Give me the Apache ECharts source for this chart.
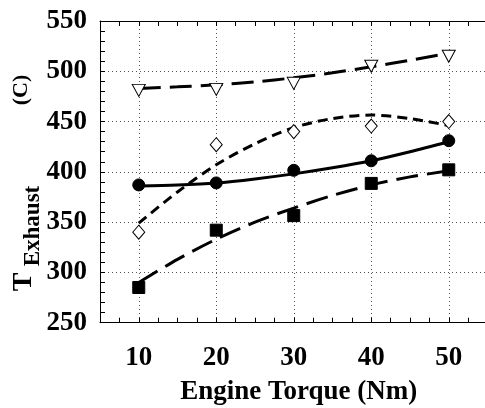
<!DOCTYPE html>
<html>
<head>
<meta charset="utf-8">
<script src="https://cdn.jsdelivr.net/npm/echarts@6/dist/echarts.min.js"></script>
<style>
  html, body { margin: 0; padding: 0; background: #fff; }
  #chart { width: 485px; height: 408px; }
</style>
</head>
<body>
<div id="chart"></div>
<script>
// Measured exhaust temperatures at each torque setting
const torque = [10, 20, 30, 40, 50];
const triangleVals = [481, 482, 488, 505, 515];
const diamondVals = [340, 427, 440, 445.5, 450];
const circleVals = [387, 389, 401.5, 411, 431];
const squareVals = [285, 342, 356.5, 388.5, 402];

// Trend curves, sampled along the torque range
const fitTorque = [10, 15, 20, 25, 30, 35, 40, 45, 50];
const triangleFit = [483, 484.5, 486.5, 489.5, 493.5, 498.5, 504.5, 511, 518];
const diamondFit = [349, 380, 407, 428, 444, 453, 456.5, 453, 446];
const circleFit = [386, 387, 389, 393, 398, 404, 411, 420, 430];
const squareFit = [290, 313, 333, 350, 364, 376.5, 387, 395, 401];

// Axis ticks
const xTicks = [10, 20, 30, 40, 50];
const yTicks = [250, 300, 350, 400, 450, 500, 550];

const FONT = 'Liberation Serif';
const zip = (xs, ys) => xs.map((x, i) => [x, ys[i]]);

const chart = echarts.init(document.getElementById('chart'), null, { renderer: 'canvas' });

const gridLine = { show: true, lineStyle: { color: ['rgba(0,0,0,0)', '#555'], width: 1, type: [1, 3] } };
const axisBase = {
  type: 'value',
  show: true,
  min: 5, max: 55, interval: 5,
  axisLine: { show: true, onZero: false, lineStyle: { color: '#000', width: 1 } },
  axisTick: { show: true, inside: true, length: 5, lineStyle: { color: '#000' } },
  minorTick: { show: true, splitNumber: 2, length: 5, lineStyle: { color: '#000' } }
};

function fitLine(data, dash) {
  return {
    type: 'line', data: data, smooth: 0.3, symbol: 'none', z: 2,
    lineStyle: { color: '#000', width: 3, type: dash, cap: 'butt', opacity: 1 }
  };
}
function markers(data, symbol, size, filled, rotate) {
  return {
    type: 'scatter', data: data, symbol: symbol, symbolSize: size, symbolRotate: rotate || 0, z: 5,
    itemStyle: { color: filled ? '#000' : '#fff', borderColor: '#000', borderWidth: 1, opacity: 1 }
  };
}

chart.setOption({
  animation: false,
  backgroundColor: '#fff',
  grid: { left: 100, top: 21, width: 387.5, height: 301.7, containLabel: false, outerBoundsMode: 'none' },
  xAxis: [
    Object.assign({}, axisBase, {
      position: 'bottom',
      name: 'Engine Torque (Nm)',
      nameLocation: 'middle',
      nameGap: 56,
      nameTextStyle: { fontFamily: FONT, fontWeight: 'bold', fontSize: 27, color: '#000', padding: [0, 0, 0, 10] },
      axisLabel: {
        margin: 22, fontFamily: FONT, fontWeight: 'bold', fontSize: 27, color: '#000',
        formatter: v => (xTicks.indexOf(v) >= 0 ? String(v) : '')
      },
      splitLine: gridLine
    }),
    Object.assign({}, axisBase, {
      position: 'top',
      axisLabel: { show: false },
      splitLine: { show: false }
    })
  ],
  yAxis: {
    type: 'value',
    min: yTicks[0], max: yTicks[yTicks.length - 1], interval: 50,
    axisLine: { show: true, onZero: false, lineStyle: { color: '#000', width: 1 } },
    axisTick: { show: true, inside: true, length: 5, lineStyle: { color: '#000' } },
    minorTick: { show: true, splitNumber: 5, length: 5, lineStyle: { color: '#000' } },
    axisLabel: { margin: 13, fontFamily: FONT, fontWeight: 'bold', fontSize: 27, color: '#000' },
    splitLine: { show: true, lineStyle: { color: '#555', width: 1, type: [1, 3] } }
  },
  graphic: [
    { type: 'text', x: 24, y: 282, rotation: Math.PI / 2,
      style: { text: 'T', font: 'bold 28px "Liberation Serif"', fill: '#000', align: 'center', verticalAlign: 'middle' } },
    { type: 'text', x: 33, y: 226, rotation: Math.PI / 2,
      style: { text: 'Exhaust', font: 'bold 23px "Liberation Serif"', fill: '#000', align: 'center', verticalAlign: 'middle' } },
    { type: 'text', x: 21, y: 90, rotation: Math.PI / 2,
      style: { text: '(C)', font: 'bold 22px "Liberation Serif"', fill: '#000', align: 'center', verticalAlign: 'middle' } }
  ],
  series: [
    fitLine(zip(fitTorque, triangleFit), [22, 9]),
    fitLine(zip(fitTorque, diamondFit), [10, 6]),
    fitLine(zip(fitTorque, circleFit), 'solid'),
    fitLine(zip(fitTorque, squareFit), [22, 9]),
    markers(zip(torque, triangleVals), 'triangle', [13, 12], false, 180),
    markers(zip(torque, diamondVals), 'diamond', [12, 14], false),
    markers(zip(torque, circleVals), 'circle', 12, true),
    markers(zip(torque, squareVals), 'rect', 12, true)
  ]
});
</script>
</body>
</html>
